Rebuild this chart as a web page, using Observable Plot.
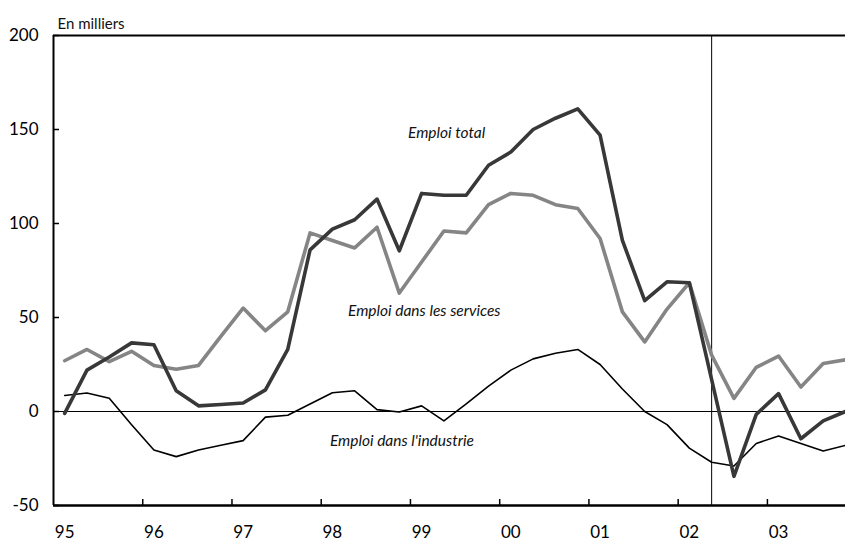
<!DOCTYPE html>
<html><head><meta charset="utf-8">
<script src="https://cdn.jsdelivr.net/npm/d3@7"></script>
<script src="https://cdn.jsdelivr.net/npm/@observablehq/plot@0.6"></script>
<style>body{margin:0;background:#fff;} #chart{width:845px;height:542px;}</style>
</head><body><div id="chart"></div>
<script>
// Quarterly data, 1995 T1 to 2003 T4, in thousands
const years = [1995, 1996, 1997, 1998, 1999, 2000, 2001, 2002, 2003];
const yearLabels = ["95", "96", "97", "98", "99", "00", "01", "02", "03"];
const quarters = years.flatMap(y => ["T1", "T2", "T3", "T4"].map(q => `${y}${q}`));

const emploiTotal = [-1, 22, 29, 36.5, 35.5, 11, 3, 3.7, 4.5, 11.5, 33, 86,
  97, 102, 113, 85.5, 116, 115, 115, 131, 138, 150, 156, 161,
  147, 91, 59, 69, 68.5, 17, -34.5, -1.5, 9.5, -14.5, -5, 0];
const emploiServices = [27, 33, 26.5, 32, 24.5, 22.5, 24.5, 40, 55, 43, 53, 95,
  91, 87, 98, 63, 79.5, 96, 95, 110, 116, 115, 110, 108,
  92, 53, 37, 54.5, 68.5, 30, 7, 23.5, 29.5, 13, 25.5, 27.5];
const emploiIndustrie = [8.5, 9.8, 7, -7, -20.5, -24, -20.5, -18, -15.5, -3, -2, 4,
  10, 11, 1, -0.3, 3, -5, 4, 13.5, 22, 28, 31, 33,
  25, 12, 0, -7, -19.5, -27, -29, -17, -13, -17, -21, -18];

const yTicks = [-50, 0, 50, 100, 150, 200];
const xDomain = [1994.875, 2003.75];
const yDomain = [-50, 200];
const breakQuarter = "2002T2";

const annotations = [
  {quarter: "1999T2", v: 148, text: "Emploi total"},
  {quarter: "1999T1", v: 53.5, text: "Emploi dans les services"},
  {quarter: "1998T4", v: -15.5, text: "Emploi dans l'industrie"}
];

const qToT = q => years.indexOf(+q.slice(0, 4)) + years[0] + (+q.slice(5) - 1) / 4;
const rows = quarters.map((q, i) => ({
  t: qToT(q), total: emploiTotal[i], services: emploiServices[i], industrie: emploiIndustrie[i]
}));
const annRows = annotations.map(a => ({...a, t: qToT(a.quarter) + 0.03}));

const chart = Plot.plot({
  width: 845, height: 542,
  marginLeft: 53, marginRight: 0, marginTop: 35, marginBottom: 37,
  style: {fontFamily: "Lato, 'Open Sans', sans-serif", background: "#fff", overflow: "visible", color: "#000"},
  x: {domain: xDomain, axis: null},
  y: {domain: yDomain, axis: null},
  marks: [
    Plot.ruleY([0], {stroke: "#000", strokeWidth: 1}),
    Plot.ruleX([qToT(breakQuarter)], {stroke: "#000", strokeWidth: 1}),
    Plot.line(rows, {x: "t", y: "industrie", stroke: "#000", strokeWidth: 1.6}),
    Plot.line(rows, {x: "t", y: "services", stroke: "#858585", strokeWidth: 3.6}),
    Plot.line(rows, {x: "t", y: "total", stroke: "#383838", strokeWidth: 3.6}),
    Plot.ruleY([yDomain[1]], {stroke: "#000", strokeWidth: 2}),
    Plot.ruleY([yDomain[0]], {stroke: "#000", strokeWidth: 2.5}),
    Plot.ruleX([xDomain[0]], {stroke: "#000", strokeWidth: 2}),
    Plot.axisY({ticks: yTicks, tickSize: 0, tickPadding: 15, fontSize: 17, label: null,
      tickFormat: d => String(d)}),
    Plot.axisY({ticks: yTicks, tickSize: 6, dx: 6, tickFormat: () => "", label: null, strokeWidth: 1.5}),
    Plot.axisX({ticks: years, tickSize: 0, tickPadding: 20, fontSize: 17, label: null,
      tickFormat: d => yearLabels[years.indexOf(d)]}),
    Plot.axisX({ticks: years.slice(1).map(y => y - 0.125), tickSize: 6, dy: -6, tickFormat: () => "", label: null, strokeWidth: 1.5}),
    Plot.text(annRows, {x: "t", y: "v", text: "text", fontStyle: "italic", fontSize: 15.5, fill: "#111"}),
    Plot.text(["En milliers"], {frameAnchor: "top-left", dx: 4, dy: -17, fontSize: 15, textAnchor: "start", fill: "#111"})
  ]
});
document.getElementById("chart").appendChild(chart);
</script>
</body></html>
